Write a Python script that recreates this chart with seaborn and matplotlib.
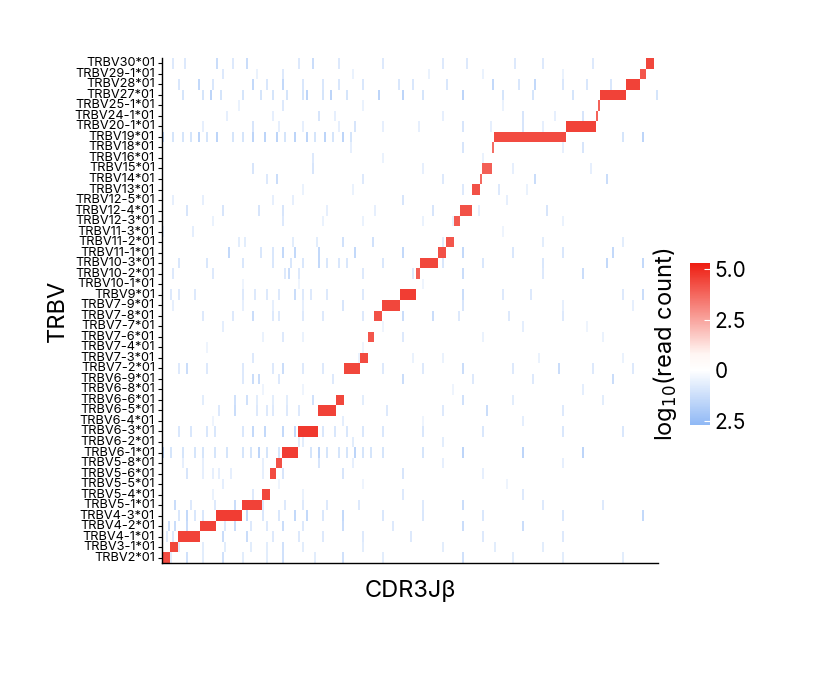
import numpy as np
import pandas as pd
import matplotlib
matplotlib.use("Agg")
import matplotlib.pyplot as plt
import seaborn as sns
from matplotlib.colors import LinearSegmentedColormap

plt.rcParams["font.family"] = "Inter"

# TRBV genes, top to bottom
trbv = ["TRBV30*01", "TRBV29-1*01", "TRBV28*01", "TRBV27*01", "TRBV25-1*01", "TRBV24-1*01",
        "TRBV20-1*01", "TRBV19*01", "TRBV18*01", "TRBV16*01", "TRBV15*01", "TRBV14*01",
        "TRBV13*01", "TRBV12-5*01", "TRBV12-4*01", "TRBV12-3*01", "TRBV11-3*01", "TRBV11-2*01",
        "TRBV11-1*01", "TRBV10-3*01", "TRBV10-2*01", "TRBV10-1*01", "TRBV9*01", "TRBV7-9*01",
        "TRBV7-8*01", "TRBV7-7*01", "TRBV7-6*01", "TRBV7-4*01", "TRBV7-3*01", "TRBV7-2*01",
        "TRBV6-9*01", "TRBV6-8*01", "TRBV6-6*01", "TRBV6-5*01", "TRBV6-4*01", "TRBV6-3*01",
        "TRBV6-2*01", "TRBV6-1*01", "TRBV5-8*01", "TRBV5-6*01", "TRBV5-5*01", "TRBV5-4*01",
        "TRBV5-1*01", "TRBV4-3*01", "TRBV4-2*01", "TRBV4-1*01", "TRBV3-1*01", "TRBV2*01"]

# number of CDR3Jb columns owned by each TRBV (diagonal block widths), top to bottom
block_width = [4, 3, 7, 13, 1, 1, 15, 36, 1, 0, 5, 1, 4, 0, 6, 3, 0, 4, 4, 9, 2, 0, 8, 9,
               4, 0, 3, 0, 4, 8, 0, 0, 4, 9, 0, 10, 0, 8, 3, 3, 0, 4, 10, 13, 8, 11, 4, 4]
block_level = [4.4, 4.1, 4.5, 4.5, 3.8, 3.8, 4.5, 4.3, 3.6, 0, 3.9, 3.7, 4.2, 0, 4.2, 4.0, 0, 4.1,
               4.2, 4.4, 3.9, 0, 4.6, 4.4, 4.2, 0, 4.1, 0, 4.3, 4.4, 0, 0, 4.4, 4.5, 0, 4.7, 0, 4.6,
               4.2, 4.3, 0, 4.4, 4.5, 4.6, 4.5, 4.5, 4.4, 4.3]

# sparse low counts (column index) per row, top to bottom
bg_cols = [
    [5, 11, 27, 35, 42, 68, 75, 88, 110, 140, 152, 176, 190, 215],
    [30, 47, 60, 95, 133, 160, 200],
    [8, 18, 25, 45, 52, 60, 70, 80, 88, 100, 118, 125, 142, 165, 178, 186, 200, 212, 224, 233],
    [10, 20, 24, 29, 40, 49, 55, 62, 70, 72, 80, 84, 92, 108, 120, 130, 150, 170, 185, 205, 247],
    [38, 60, 100, 170],
    [32, 55, 78, 86, 140, 180, 196, 210],
    [20, 45, 58, 70, 88, 96, 110, 128, 150, 164, 180, 190, 205],
    [0, 5, 10, 14, 18, 22, 27, 35, 40, 45, 51, 57, 61, 66, 72, 76, 81, 85, 90, 94, 230, 240],
    [94, 150, 200, 210],
    [75, 110, 160],
    [45, 75, 130, 175, 214],
    [52, 57, 100, 140, 186, 222],
    [70, 95, 150, 168, 182],
    [5, 20, 55, 65, 120, 172],
    [12, 30, 48, 60, 82, 106, 135, 158, 192],
    [25, 60, 80, 100, 130, 145, 200],
    [0, 15, 170],
    [38, 41, 65, 77, 90, 105, 140, 190, 230],
    [33, 49, 55, 60, 66, 78, 96, 120, 150, 175, 200, 225],
    [8, 22, 40, 55, 64, 70, 78, 82, 88, 92, 110, 140, 160, 190, 222, 240],
    [5, 25, 61, 63, 68, 100, 125, 150, 190, 210],
    [40, 68, 130],
    [4, 8, 16, 40, 46, 52, 58, 66, 70, 74, 82, 100, 150, 170, 184, 230, 240],
    [5, 40, 55, 70, 90, 112, 150, 200, 235],
    [20, 35, 45, 55, 58, 70, 80, 100, 120, 135, 148, 173, 200],
    [30, 110, 180, 212],
    [50, 60, 70, 120, 160, 220],
    [22, 100],
    [45, 98, 125, 140, 188, 230],
    [8, 12, 22, 40, 55, 60, 70, 80, 110, 130, 150, 175, 198, 215, 235],
    [40, 45, 48, 58, 85, 120, 155, 185, 225],
    [50, 70, 145, 210],
    [20, 36, 42, 47, 55, 62, 75, 100, 150, 175, 220],
    [28, 36, 47, 52, 55, 62, 68, 82, 112, 140, 162, 200],
    [25, 90, 130, 180],
    [8, 14, 22, 26, 40, 45, 51, 60, 66, 72, 74, 80, 86, 92, 100, 110, 130, 160, 200, 230],
    [68, 70, 95, 140],
    [0, 4, 10, 16, 20, 26, 32, 40, 44, 48, 52, 58, 62, 74, 78, 82, 88, 92, 96, 100, 104, 110,
     130, 150, 180, 210],
    [10, 20, 50, 78, 95, 140, 200],
    [12, 20, 25, 28, 34, 50, 60, 90, 120, 160],
    [30, 58, 100, 172],
    [25, 45, 70, 120, 180],
    [6, 14, 26, 36, 50, 61, 70, 82, 98, 130, 150, 190, 220],
    [8, 12, 16, 20, 30, 34, 36, 42, 50, 58, 66, 72, 80, 90, 110, 130, 160, 200, 240],
    [3, 6, 12, 24, 31, 36, 44, 52, 60, 70, 90, 115, 150, 180],
    [2, 5, 8, 11, 30, 42, 55, 68, 80, 100, 124, 160, 200],
    [8, 20, 31, 44, 52, 60, 70, 100, 140, 166, 190],
    [4, 12, 20, 30, 40, 52, 60, 76, 90, 110, 150, 175, 200, 230],
]
bg_level = [-0.8, -0.5, -0.9, -1.0, -0.5, -0.6, -0.6, -1.0, -0.6, -0.5, -0.6, -0.8, -0.5, -0.6,
            -0.6, -0.5, -0.4, -0.7, -0.9, -0.9, -0.8, -0.4, -0.8, -0.6, -0.8, -0.4, -0.5, -0.4,
            -0.5, -0.8, -0.8, -0.4, -0.7, -0.8, -0.4, -0.9, -0.7, -1.0, -0.6, -0.6, -0.4, -0.5,
            -0.8, -0.9, -0.8, -0.8, -0.7, -0.7]

n_cols = 248
nrow = len(trbv)

# diagonal blocks start from the bottom-left corner
starts = np.zeros(nrow, dtype=int)
pos = 0
for i in range(nrow - 1, -1, -1):
    starts[i] = pos
    pos += block_width[i]

mat = np.zeros((nrow, n_cols))
for i in range(nrow):
    for c in bg_cols[i]:
        mat[i, c] = bg_level[i] * (1.6 if c % 3 == 0 else 1.0)
    if block_width[i] > 0:
        mat[i, starts[i]:starts[i] + block_width[i]] = block_level[i]
df = pd.DataFrame(mat, index=trbv)

cmap = LinearSegmentedColormap.from_list(
    "rb", [(0, "#8fb8f5"), (2.7 / 8.0, "#ffffff"), (3.5 / 8.0, "#fff6f3"),
           (1.0, "#ee1c10")])

fig = plt.figure(figsize=(8.26, 6.75), dpi=100)
ax = fig.add_axes([0.196, 0.166, 0.601, 0.748])
cax = fig.add_axes([0.835, 0.37, 0.024, 0.241])

sns.heatmap(df, ax=ax, cbar_ax=cax, cmap=cmap, vmin=-2.7, vmax=5.3,
            xticklabels=False, yticklabels=True)

ax.set_ylabel("TRBV", fontsize=17, labelpad=4)
ax.set_xlabel("CDR3J\u03b2", fontsize=17, labelpad=12)
ax.tick_params(axis="y", labelsize=9.2, length=3, pad=2)
for t in ax.get_yticklabels():
    t.set_fontstretch("condensed")
ax.tick_params(axis="x", length=0)
for s in ["left", "bottom"]:
    ax.spines[s].set_visible(True)
    ax.spines[s].set_linewidth(1.0)

cax.set_yticks([-2.5, 0, 2.5, 5.0])
cax.set_yticklabels(["2.5", "0", "2.5", "5.0"])
cax.tick_params(labelsize=15, length=4, color="white", direction="in")
cax.yaxis.set_label_position("left")
cax.set_ylabel("log$_{10}$(read count)", fontsize=17, labelpad=8)

fig.savefig("out.png", dpi=100)
